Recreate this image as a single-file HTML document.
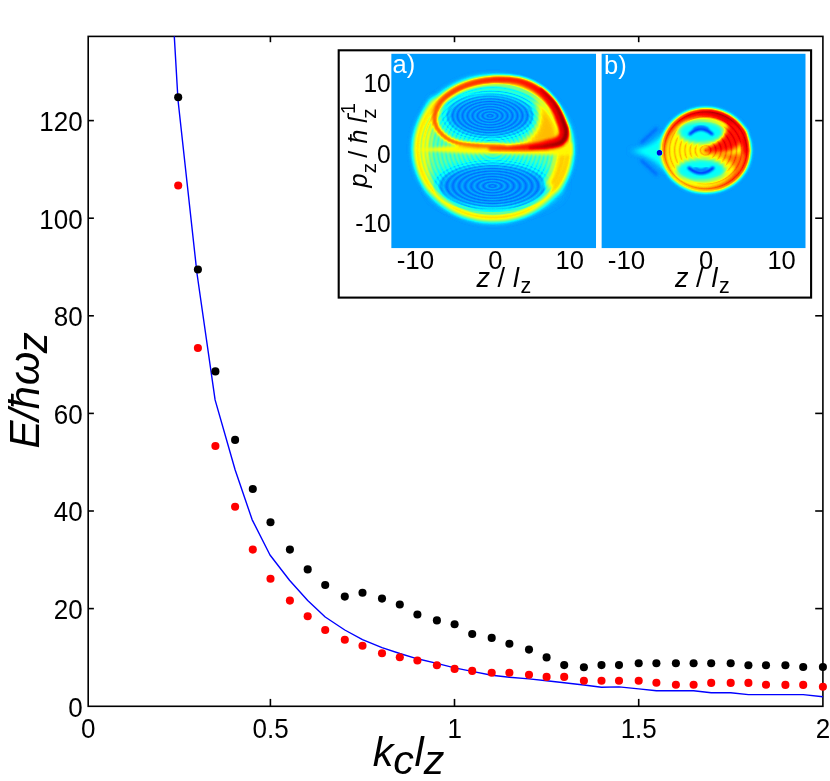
<!DOCTYPE html>
<html><head><meta charset="utf-8"><title>E vs k_c l_z</title>
<style>html,body{margin:0;padding:0;background:#fff;}body{width:830px;height:781px;overflow:hidden;}svg{display:block;filter:blur(0.45px);}text{font-family:"Liberation Sans",sans-serif;}.i{font-style:italic;}</style></head><body>
<svg width="830" height="781" viewBox="0 0 830 781">
<defs>
<clipPath id="clipA"><rect x="391.2" y="53.6" width="204.9" height="194.7"/></clipPath>
<clipPath id="clipB"><rect x="601.4" y="53.6" width="204.3" height="194.7"/></clipPath>
<filter id="b05" x="-50%" y="-50%" width="200%" height="200%" color-interpolation-filters="sRGB"><feGaussianBlur stdDeviation="0.5"/></filter>
<filter id="b07" x="-50%" y="-50%" width="200%" height="200%" color-interpolation-filters="sRGB"><feGaussianBlur stdDeviation="0.7"/></filter>
<filter id="b1" x="-50%" y="-50%" width="200%" height="200%" color-interpolation-filters="sRGB"><feGaussianBlur stdDeviation="1"/></filter>
<filter id="b15" x="-50%" y="-50%" width="200%" height="200%" color-interpolation-filters="sRGB"><feGaussianBlur stdDeviation="1.5"/></filter>
<filter id="b2" x="-50%" y="-50%" width="200%" height="200%" color-interpolation-filters="sRGB"><feGaussianBlur stdDeviation="2"/></filter>
<filter id="b25" x="-50%" y="-50%" width="200%" height="200%" color-interpolation-filters="sRGB"><feGaussianBlur stdDeviation="2.5"/></filter>
<filter id="b3" x="-50%" y="-50%" width="200%" height="200%" color-interpolation-filters="sRGB"><feGaussianBlur stdDeviation="3"/></filter>
<filter id="b4" x="-50%" y="-50%" width="200%" height="200%" color-interpolation-filters="sRGB"><feGaussianBlur stdDeviation="4"/></filter>
<filter id="b5" x="-50%" y="-50%" width="200%" height="200%" color-interpolation-filters="sRGB"><feGaussianBlur stdDeviation="5"/></filter>
<filter id="b6" x="-50%" y="-50%" width="200%" height="200%" color-interpolation-filters="sRGB"><feGaussianBlur stdDeviation="6"/></filter>
<filter id="jet" x="0" y="0" width="100%" height="100%" color-interpolation-filters="sRGB"><feComponentTransfer><feFuncR type="table" tableValues="0 0 0 0 .5 1 1 1 .5"/><feFuncG type="table" tableValues="0 0 .5 1 1 1 .5 0 0"/><feFuncB type="table" tableValues=".5 1 1 1 .5 0 0 0 0"/></feComponentTransfer></filter>
<radialGradient id="ripA" cx="0.5" cy="0.5" r="0.05" spreadMethod="repeat"><stop offset="0" stop-color="#fff" stop-opacity="0.065"/><stop offset="0.5" stop-color="#000" stop-opacity="0.065"/><stop offset="1" stop-color="#fff" stop-opacity="0.065"/></radialGradient>
<radialGradient id="ringsA" cx="0.5" cy="0.5" r="0.028" spreadMethod="repeat"><stop offset="0" stop-color="#fff" stop-opacity="0.07"/><stop offset="0.5" stop-color="#000" stop-opacity="0.10"/><stop offset="1" stop-color="#fff" stop-opacity="0.07"/></radialGradient>
<radialGradient id="ringsB" cx="0.5" cy="0.5" r="0.06" spreadMethod="repeat"><stop offset="0" stop-color="#fff" stop-opacity="0.14"/><stop offset="0.5" stop-color="#000" stop-opacity="0.05"/><stop offset="1" stop-color="#fff" stop-opacity="0.14"/></radialGradient>
</defs>
<rect x="0" y="0" width="830" height="781" fill="#fff"/>
<g stroke="#000" stroke-width="1.60" fill="none" stroke-linecap="butt">
<rect x="88.2" y="36.4" width="734.7" height="669.9"/>
<line x1="270.4" y1="706.3" x2="270.4" y2="698.9"/>
<line x1="270.4" y1="36.4" x2="270.4" y2="42.2"/>
<line x1="454.5" y1="706.3" x2="454.5" y2="698.9"/>
<line x1="454.5" y1="36.4" x2="454.5" y2="42.2"/>
<line x1="638.7" y1="706.3" x2="638.7" y2="698.9"/>
<line x1="638.7" y1="36.4" x2="638.7" y2="42.2"/>
<line x1="88.2" y1="608.6" x2="93.9" y2="608.6"/>
<line x1="822.9" y1="608.6" x2="815.2" y2="608.6"/>
<line x1="88.2" y1="511.0" x2="93.9" y2="511.0"/>
<line x1="822.9" y1="511.0" x2="815.2" y2="511.0"/>
<line x1="88.2" y1="413.4" x2="93.9" y2="413.4"/>
<line x1="822.9" y1="413.4" x2="815.2" y2="413.4"/>
<line x1="88.2" y1="315.8" x2="93.9" y2="315.8"/>
<line x1="822.9" y1="315.8" x2="815.2" y2="315.8"/>
<line x1="88.2" y1="218.2" x2="93.9" y2="218.2"/>
<line x1="822.9" y1="218.2" x2="815.2" y2="218.2"/>
<line x1="88.2" y1="120.6" x2="93.9" y2="120.6"/>
<line x1="822.9" y1="120.6" x2="815.2" y2="120.6"/>
</g>
<polyline fill="none" stroke="#0000ff" stroke-width="1.4" stroke-linejoin="round" points="174.3,36.4 178.0,100.0 197.0,273.5 215.1,399.9 235.1,469.7 252.1,519.6 270.0,555.0 289.5,580.2 307.7,600.5 325.2,617.0 344.8,630.0 362.5,639.6 382.0,647.7 399.8,653.5 417.4,658.8 436.9,663.4 454.6,667.9 472.2,671.4 491.7,675.2 509.4,677.2 529.0,678.9 546.6,680.8 564.2,682.8 583.9,685.0 601.5,687.2 619.0,686.9 638.7,688.9 656.4,690.8 675.9,690.8 693.6,690.8 711.2,692.8 730.7,692.8 748.4,694.6 766.0,694.6 785.4,694.6 803.2,694.6 822.9,696.7"/>
<g fill="#000">
<circle cx="178.2" cy="97.2" r="4.05"/>
<circle cx="197.9" cy="269.5" r="4.05"/>
<circle cx="215.4" cy="371.4" r="4.05"/>
<circle cx="235.1" cy="439.9" r="4.05"/>
<circle cx="252.8" cy="489.0" r="4.05"/>
<circle cx="270.5" cy="522.2" r="4.05"/>
<circle cx="289.9" cy="549.6" r="4.05"/>
<circle cx="307.7" cy="569.4" r="4.05"/>
<circle cx="325.2" cy="585.0" r="4.05"/>
<circle cx="344.8" cy="596.6" r="4.05"/>
<circle cx="362.5" cy="592.7" r="4.05"/>
<circle cx="382.0" cy="598.6" r="4.05"/>
<circle cx="399.8" cy="604.5" r="4.05"/>
<circle cx="417.4" cy="614.5" r="4.05"/>
<circle cx="436.9" cy="620.4" r="4.05"/>
<circle cx="454.6" cy="624.2" r="4.05"/>
<circle cx="472.2" cy="634.0" r="4.05"/>
<circle cx="491.7" cy="637.9" r="4.05"/>
<circle cx="509.4" cy="643.8" r="4.05"/>
<circle cx="529.0" cy="649.6" r="4.05"/>
<circle cx="546.6" cy="657.4" r="4.05"/>
<circle cx="564.2" cy="665.1" r="4.05"/>
<circle cx="583.9" cy="667.2" r="4.05"/>
<circle cx="601.5" cy="665.1" r="4.05"/>
<circle cx="619.0" cy="665.1" r="4.05"/>
<circle cx="638.7" cy="663.3" r="4.05"/>
<circle cx="656.4" cy="663.3" r="4.05"/>
<circle cx="675.9" cy="663.3" r="4.05"/>
<circle cx="693.6" cy="663.3" r="4.05"/>
<circle cx="711.2" cy="663.3" r="4.05"/>
<circle cx="730.7" cy="663.3" r="4.05"/>
<circle cx="748.4" cy="665.2" r="4.05"/>
<circle cx="766.0" cy="665.2" r="4.05"/>
<circle cx="785.4" cy="665.3" r="4.05"/>
<circle cx="803.2" cy="667.0" r="4.05"/>
<circle cx="822.9" cy="667.0" r="4.05"/>
</g><g fill="#ff0000">
<circle cx="178.2" cy="185.5" r="4.05"/>
<circle cx="197.9" cy="348.0" r="4.05"/>
<circle cx="215.4" cy="446.0" r="4.05"/>
<circle cx="235.1" cy="506.7" r="4.05"/>
<circle cx="252.8" cy="549.6" r="4.05"/>
<circle cx="270.5" cy="578.7" r="4.05"/>
<circle cx="289.9" cy="600.6" r="4.05"/>
<circle cx="307.7" cy="616.3" r="4.05"/>
<circle cx="325.2" cy="630.0" r="4.05"/>
<circle cx="344.8" cy="639.8" r="4.05"/>
<circle cx="362.5" cy="645.7" r="4.05"/>
<circle cx="382.0" cy="653.3" r="4.05"/>
<circle cx="399.8" cy="657.3" r="4.05"/>
<circle cx="417.4" cy="660.5" r="4.05"/>
<circle cx="436.9" cy="665.2" r="4.05"/>
<circle cx="454.6" cy="668.9" r="4.05"/>
<circle cx="472.2" cy="670.9" r="4.05"/>
<circle cx="491.7" cy="672.8" r="4.05"/>
<circle cx="509.4" cy="672.8" r="4.05"/>
<circle cx="529.0" cy="674.8" r="4.05"/>
<circle cx="546.6" cy="676.9" r="4.05"/>
<circle cx="564.2" cy="676.9" r="4.05"/>
<circle cx="583.9" cy="680.8" r="4.05"/>
<circle cx="601.5" cy="680.8" r="4.05"/>
<circle cx="619.0" cy="680.8" r="4.05"/>
<circle cx="638.7" cy="680.8" r="4.05"/>
<circle cx="656.4" cy="682.8" r="4.05"/>
<circle cx="675.9" cy="684.7" r="4.05"/>
<circle cx="693.6" cy="684.8" r="4.05"/>
<circle cx="711.2" cy="682.9" r="4.05"/>
<circle cx="730.7" cy="682.9" r="4.05"/>
<circle cx="748.4" cy="682.9" r="4.05"/>
<circle cx="766.0" cy="684.8" r="4.05"/>
<circle cx="785.4" cy="684.9" r="4.05"/>
<circle cx="803.2" cy="684.9" r="4.05"/>
<circle cx="822.9" cy="686.7" r="4.05"/>
</g>
<g font-size="26.0" fill="#000">
<text transform="translate(82.7,716.6) scale(1,1.060)" text-anchor="end">0</text>
<text transform="translate(82.7,618.9) scale(1,1.060)" text-anchor="end">20</text>
<text transform="translate(82.7,521.3) scale(1,1.060)" text-anchor="end">40</text>
<text transform="translate(82.7,423.7) scale(1,1.060)" text-anchor="end">60</text>
<text transform="translate(82.7,326.1) scale(1,1.060)" text-anchor="end">80</text>
<text transform="translate(82.7,228.5) scale(1,1.060)" text-anchor="end">100</text>
<text transform="translate(82.7,130.9) scale(1,1.060)" text-anchor="end">120</text>
<text transform="translate(88.2,738.0) scale(1,1.060)" text-anchor="middle">0</text>
<text transform="translate(270.6,738.0) scale(1,1.060)" text-anchor="middle">0.5</text>
<text transform="translate(454.7,738.0) scale(1,1.060)" text-anchor="middle">1</text>
<text transform="translate(638.7,738.0) scale(1,1.060)" text-anchor="middle">1.5</text>
<text transform="translate(822.9,738.0) scale(1,1.060)" text-anchor="middle">2</text>
</g>
<g class="i" font-size="41.3" fill="#000">
<text x="372.8" y="765.7">k</text>
<text x="393.3" y="774.2">c</text>
<text x="414.6" y="765.7">l</text>
<text x="423.8" y="774.0">z</text>
</g>
<g class="i" font-size="42" fill="#000" transform="translate(39.2,448.6) rotate(-90)">
<text x="0" y="0" textLength="62.6" lengthAdjust="spacing">E/ħ</text>
<text x="63.3" y="0" textLength="33.6" lengthAdjust="spacingAndGlyphs">ω</text>
<text x="95.4" y="8.0">z</text>
</g>
<rect x="338.7" y="50.3" width="472.4" height="247.3" fill="#fff" stroke="#000" stroke-width="2.1"/>
<g clip-path="url(#clipA)"><g filter="url(#jet)">
<rect x="391.2" y="53.6" width="204.9" height="194.7" fill="#474747"/>
<ellipse cx="493.0" cy="149.0" rx="80.5" ry="73.6" fill="#737373" filter="url(#b25)"/>
<ellipse cx="489.7" cy="116" rx="52" ry="29" fill="#5e5e5e" filter="url(#b4)"/>
<ellipse cx="496" cy="185.5" rx="66" ry="28" fill="#5e5e5e" filter="url(#b4)"/>
<ellipse cx="493.0" cy="149.0" rx="75.5" ry="68.6" fill="none" stroke="#b5b5b5" stroke-width="5.5" filter="url(#b2)"/>
<path d="M434 98 C417 120 415 168 432 194 C426 165 427 130 442 106Z" fill="#a3a3a3" filter="url(#b3)"/>
<ellipse cx="493.0" cy="149.0" rx="73.5" ry="66.6" fill="url(#ringsA)" filter="url(#b05)"/>
<ellipse cx="490" cy="115.8" rx="43" ry="21" fill="#404040" filter="url(#b3)"/>
<ellipse cx="492.5" cy="186" rx="54" ry="22" fill="#404040" filter="url(#b3)"/>
<ellipse cx="490" cy="115.8" rx="50" ry="26" fill="url(#ripA)" filter="url(#b05)"/>
<ellipse cx="492.5" cy="186" rx="61" ry="27" fill="url(#ripA)" filter="url(#b05)"/>
<path d="M534 96 C552 110 561 128 559 144 L512 147 C535 140 546 122 534 96Z" fill="#b0b0b0" filter="url(#b3)"/>
<path d="M569 150 C569 166 564 180 556 192 L545 184 C553 172 556 160 556 150Z" fill="#adadad" filter="url(#b3)"/>
<path d="M412 150 L470 144 L572 143 L572 155 L470 153.5Z" fill="#a1a1a1" filter="url(#b15)"/>
<g filter="url(#b15)"><circle cx="504.0" cy="146.8" r="2.00" fill="#c7c7c7"/><circle cx="503.3" cy="146.8" r="2.01" fill="#c7c7c7"/><circle cx="502.6" cy="146.7" r="2.02" fill="#c7c7c7"/><circle cx="501.7" cy="146.7" r="2.03" fill="#c7c7c7"/><circle cx="500.8" cy="146.6" r="2.04" fill="#c7c7c7"/><circle cx="499.8" cy="146.6" r="2.04" fill="#c7c7c7"/><circle cx="498.7" cy="146.5" r="2.05" fill="#c7c7c7"/><circle cx="497.5" cy="146.5" r="2.06" fill="#c7c7c7"/><circle cx="496.3" cy="146.4" r="2.07" fill="#c7c7c7"/><circle cx="495.0" cy="146.4" r="2.08" fill="#c7c7c7"/><circle cx="493.7" cy="146.3" r="2.09" fill="#c7c7c7"/><circle cx="492.4" cy="146.2" r="2.10" fill="#c7c7c7"/><circle cx="491.0" cy="146.2" r="2.11" fill="#c7c7c7"/><circle cx="489.6" cy="146.1" r="2.12" fill="#c7c7c7"/><circle cx="488.1" cy="146.0" r="2.12" fill="#c7c7c7"/><circle cx="486.7" cy="146.0" r="2.13" fill="#c7c7c7"/><circle cx="485.2" cy="145.9" r="2.14" fill="#c7c7c7"/><circle cx="483.8" cy="145.8" r="2.15" fill="#c7c7c7"/><circle cx="482.4" cy="145.7" r="2.16" fill="#c7c7c7"/><circle cx="480.9" cy="145.6" r="2.17" fill="#c7c7c7"/><circle cx="479.5" cy="145.6" r="2.18" fill="#c7c7c7"/><circle cx="478.2" cy="145.5" r="2.19" fill="#c7c7c7"/><circle cx="476.8" cy="145.4" r="2.20" fill="#c7c7c7"/><circle cx="475.6" cy="145.3" r="2.21" fill="#c7c7c7"/><circle cx="474.3" cy="145.2" r="2.21" fill="#c7c7c7"/><circle cx="473.1" cy="145.1" r="2.22" fill="#c7c7c7"/><circle cx="472.0" cy="145.0" r="2.23" fill="#c7c7c7"/><circle cx="471.0" cy="144.9" r="2.24" fill="#c7c7c7"/><circle cx="470.0" cy="144.8" r="2.25" fill="#c7c7c7"/><circle cx="468.3" cy="144.6" r="2.27" fill="#c7c7c7"/><circle cx="466.8" cy="144.4" r="2.28" fill="#c7c7c7"/><circle cx="465.3" cy="144.2" r="2.30" fill="#c7c7c7"/><circle cx="463.9" cy="144.1" r="2.32" fill="#c7c7c7"/><circle cx="462.6" cy="143.9" r="2.33" fill="#c7c7c7"/><circle cx="461.4" cy="143.7" r="2.35" fill="#c7c7c7"/><circle cx="460.2" cy="143.5" r="2.37" fill="#c7c7c7"/><circle cx="459.1" cy="143.3" r="2.38" fill="#c7c7c7"/><circle cx="458.0" cy="143.0" r="2.40" fill="#c7c7c7"/><circle cx="457.0" cy="142.8" r="2.42" fill="#c7c7c7"/><circle cx="456.0" cy="142.5" r="2.43" fill="#c7c7c7"/><circle cx="455.0" cy="142.2" r="2.45" fill="#c7c7c7"/><circle cx="454.0" cy="141.8" r="2.47" fill="#c7c7c7"/><circle cx="453.0" cy="141.4" r="2.48" fill="#c7c7c7"/><circle cx="452.0" cy="141.0" r="2.50" fill="#c7c7c7"/><circle cx="450.8" cy="140.5" r="2.51" fill="#c7c7c7"/><circle cx="449.7" cy="139.9" r="2.52" fill="#c7c7c7"/><circle cx="448.6" cy="139.3" r="2.52" fill="#c7c7c7"/><circle cx="447.5" cy="138.6" r="2.53" fill="#c7c7c7"/><circle cx="446.5" cy="137.9" r="2.54" fill="#c7c7c7"/><circle cx="445.4" cy="137.2" r="2.55" fill="#c7c7c7"/><circle cx="444.5" cy="136.4" r="2.55" fill="#c7c7c7"/><circle cx="443.5" cy="135.6" r="2.56" fill="#c7c7c7"/><circle cx="442.6" cy="134.8" r="2.57" fill="#c7c7c7"/><circle cx="441.8" cy="134.0" r="2.58" fill="#c7c7c7"/><circle cx="441.0" cy="133.2" r="2.58" fill="#c7c7c7"/><circle cx="440.2" cy="132.3" r="2.59" fill="#c7c7c7"/><circle cx="439.5" cy="131.5" r="2.60" fill="#c7c7c7"/><circle cx="438.7" cy="130.5" r="2.60" fill="#c7c7c7"/><circle cx="438.0" cy="129.4" r="2.60" fill="#c7c7c7"/><circle cx="437.3" cy="128.4" r="2.60" fill="#c8c8c8"/><circle cx="436.7" cy="127.3" r="2.60" fill="#c8c8c8"/><circle cx="436.2" cy="126.1" r="2.60" fill="#c8c8c8"/><circle cx="435.7" cy="125.0" r="2.60" fill="#c8c8c8"/><circle cx="435.3" cy="123.8" r="2.60" fill="#c9c9c9"/><circle cx="435.0" cy="122.6" r="2.60" fill="#c9c9c9"/><circle cx="434.7" cy="121.4" r="2.60" fill="#c9c9c9"/><circle cx="434.6" cy="120.2" r="2.60" fill="#c9c9c9"/><circle cx="434.5" cy="119.0" r="2.60" fill="#c9c9c9"/><circle cx="434.5" cy="117.9" r="2.61" fill="#cacaca"/><circle cx="434.6" cy="116.7" r="2.62" fill="#cacaca"/><circle cx="434.8" cy="115.5" r="2.62" fill="#cacaca"/><circle cx="435.0" cy="114.2" r="2.63" fill="#cacaca"/><circle cx="435.3" cy="113.0" r="2.64" fill="#cbcbcb"/><circle cx="435.6" cy="111.7" r="2.65" fill="#cbcbcb"/><circle cx="436.0" cy="110.5" r="2.66" fill="#cbcbcb"/><circle cx="436.5" cy="109.2" r="2.67" fill="#cbcbcb"/><circle cx="437.1" cy="108.0" r="2.68" fill="#cbcbcb"/><circle cx="437.6" cy="106.8" r="2.68" fill="#cccccc"/><circle cx="438.3" cy="105.6" r="2.69" fill="#cccccc"/><circle cx="439.0" cy="104.5" r="2.70" fill="#cccccc"/><circle cx="439.7" cy="103.6" r="2.71" fill="#cccccc"/><circle cx="440.3" cy="102.6" r="2.73" fill="#cccccc"/><circle cx="441.1" cy="101.7" r="2.74" fill="#cdcdcd"/><circle cx="441.9" cy="100.8" r="2.76" fill="#cdcdcd"/><circle cx="442.7" cy="99.9" r="2.77" fill="#cdcdcd"/><circle cx="443.6" cy="99.0" r="2.79" fill="#cdcdcd"/><circle cx="444.5" cy="98.2" r="2.80" fill="#cdcdcd"/><circle cx="445.5" cy="97.3" r="2.81" fill="#cdcdcd"/><circle cx="446.5" cy="96.5" r="2.83" fill="#cecece"/><circle cx="447.5" cy="95.6" r="2.84" fill="#cecece"/><circle cx="448.6" cy="94.8" r="2.86" fill="#cecece"/><circle cx="449.7" cy="94.0" r="2.87" fill="#cecece"/><circle cx="450.8" cy="93.3" r="2.89" fill="#cecece"/><circle cx="452.0" cy="92.5" r="2.90" fill="#cfcfcf"/><circle cx="452.9" cy="91.9" r="2.91" fill="#cfcfcf"/><circle cx="453.9" cy="91.3" r="2.92" fill="#cfcfcf"/><circle cx="454.9" cy="90.8" r="2.93" fill="#cfcfcf"/><circle cx="455.9" cy="90.2" r="2.94" fill="#cfcfcf"/><circle cx="456.9" cy="89.6" r="2.96" fill="#cfcfcf"/><circle cx="458.0" cy="89.1" r="2.97" fill="#cfcfcf"/><circle cx="459.0" cy="88.6" r="2.98" fill="#d0d0d0"/><circle cx="460.1" cy="88.0" r="2.99" fill="#d0d0d0"/><circle cx="461.2" cy="87.5" r="3.00" fill="#d0d0d0"/><circle cx="462.4" cy="87.0" r="3.01" fill="#d0d0d0"/><circle cx="463.5" cy="86.5" r="3.02" fill="#d0d0d0"/><circle cx="464.7" cy="86.0" r="3.03" fill="#d0d0d0"/><circle cx="465.9" cy="85.6" r="3.04" fill="#d0d0d0"/><circle cx="467.1" cy="85.1" r="3.06" fill="#d1d1d1"/><circle cx="468.3" cy="84.7" r="3.07" fill="#d1d1d1"/><circle cx="469.5" cy="84.3" r="3.08" fill="#d1d1d1"/><circle cx="470.8" cy="83.9" r="3.09" fill="#d1d1d1"/><circle cx="472.0" cy="83.5" r="3.10" fill="#d1d1d1"/><circle cx="473.1" cy="83.2" r="3.11" fill="#d1d1d1"/><circle cx="474.2" cy="82.9" r="3.12" fill="#d2d2d2"/><circle cx="475.3" cy="82.6" r="3.13" fill="#d2d2d2"/><circle cx="476.5" cy="82.3" r="3.14" fill="#d2d2d2"/><circle cx="477.6" cy="82.1" r="3.15" fill="#d2d2d2"/><circle cx="478.8" cy="81.8" r="3.16" fill="#d3d3d3"/><circle cx="480.0" cy="81.6" r="3.17" fill="#d3d3d3"/><circle cx="481.2" cy="81.3" r="3.18" fill="#d3d3d3"/><circle cx="482.4" cy="81.1" r="3.19" fill="#d3d3d3"/><circle cx="483.6" cy="80.9" r="3.20" fill="#d4d4d4"/><circle cx="484.9" cy="80.7" r="3.20" fill="#d4d4d4"/><circle cx="486.1" cy="80.5" r="3.21" fill="#d4d4d4"/><circle cx="487.3" cy="80.4" r="3.22" fill="#d4d4d4"/><circle cx="488.6" cy="80.2" r="3.23" fill="#d4d4d4"/><circle cx="489.8" cy="80.1" r="3.24" fill="#d5d5d5"/><circle cx="491.0" cy="79.9" r="3.25" fill="#d5d5d5"/><circle cx="492.2" cy="79.8" r="3.26" fill="#d5d5d5"/><circle cx="493.4" cy="79.7" r="3.27" fill="#d5d5d5"/><circle cx="494.6" cy="79.6" r="3.28" fill="#d6d6d6"/><circle cx="495.8" cy="79.6" r="3.29" fill="#d6d6d6"/><circle cx="497.0" cy="79.5" r="3.30" fill="#d6d6d6"/><circle cx="498.2" cy="79.5" r="3.31" fill="#d6d6d6"/><circle cx="499.5" cy="79.4" r="3.32" fill="#d6d6d6"/><circle cx="500.7" cy="79.4" r="3.33" fill="#d7d7d7"/><circle cx="501.9" cy="79.4" r="3.34" fill="#d7d7d7"/><circle cx="503.2" cy="79.4" r="3.35" fill="#d7d7d7"/><circle cx="504.4" cy="79.5" r="3.36" fill="#d7d7d7"/><circle cx="505.7" cy="79.5" r="3.37" fill="#d7d7d7"/><circle cx="506.9" cy="79.6" r="3.38" fill="#d7d7d7"/><circle cx="508.1" cy="79.6" r="3.39" fill="#d7d7d7"/><circle cx="509.4" cy="79.7" r="3.40" fill="#d7d7d7"/><circle cx="510.6" cy="79.8" r="3.41" fill="#d8d8d8"/><circle cx="511.8" cy="79.9" r="3.42" fill="#d8d8d8"/><circle cx="513.0" cy="80.1" r="3.43" fill="#d8d8d8"/><circle cx="514.2" cy="80.2" r="3.44" fill="#d8d8d8"/><circle cx="515.4" cy="80.4" r="3.45" fill="#d8d8d8"/><circle cx="516.5" cy="80.6" r="3.46" fill="#d8d8d8"/><circle cx="517.7" cy="80.8" r="3.47" fill="#d8d8d8"/><circle cx="518.8" cy="81.1" r="3.48" fill="#d8d8d8"/><circle cx="519.9" cy="81.3" r="3.49" fill="#d9d9d9"/><circle cx="521.0" cy="81.6" r="3.50" fill="#d9d9d9"/><circle cx="522.3" cy="82.0" r="3.52" fill="#d9d9d9"/><circle cx="523.5" cy="82.3" r="3.55" fill="#d9d9d9"/><circle cx="524.7" cy="82.8" r="3.57" fill="#dadada"/><circle cx="525.9" cy="83.2" r="3.59" fill="#dadada"/><circle cx="527.1" cy="83.7" r="3.62" fill="#dadada"/><circle cx="528.3" cy="84.2" r="3.64" fill="#dbdbdb"/><circle cx="529.5" cy="84.7" r="3.66" fill="#dbdbdb"/><circle cx="530.6" cy="85.3" r="3.69" fill="#dbdbdb"/><circle cx="531.7" cy="85.8" r="3.71" fill="#dbdbdb"/><circle cx="532.9" cy="86.4" r="3.74" fill="#dcdcdc"/><circle cx="533.9" cy="87.0" r="3.76" fill="#dcdcdc"/><circle cx="535.0" cy="87.7" r="3.78" fill="#dcdcdc"/><circle cx="536.0" cy="88.3" r="3.81" fill="#dddddd"/><circle cx="537.1" cy="89.0" r="3.83" fill="#dddddd"/><circle cx="538.1" cy="89.6" r="3.85" fill="#dddddd"/><circle cx="539.0" cy="90.3" r="3.88" fill="#dedede"/><circle cx="540.0" cy="91.0" r="3.90" fill="#dedede"/><circle cx="541.1" cy="91.8" r="3.93" fill="#dedede"/><circle cx="542.1" cy="92.6" r="3.97" fill="#dfdfdf"/><circle cx="543.1" cy="93.5" r="4.00" fill="#dfdfdf"/><circle cx="544.0" cy="94.3" r="4.03" fill="#dfdfdf"/><circle cx="545.0" cy="95.2" r="4.07" fill="#e0e0e0"/><circle cx="545.9" cy="96.1" r="4.10" fill="#e0e0e0"/><circle cx="546.8" cy="97.1" r="4.13" fill="#e0e0e0"/><circle cx="547.6" cy="98.0" r="4.17" fill="#e1e1e1"/><circle cx="548.4" cy="99.0" r="4.20" fill="#e1e1e1"/><circle cx="549.3" cy="99.9" r="4.23" fill="#e1e1e1"/><circle cx="550.0" cy="100.9" r="4.27" fill="#e2e2e2"/><circle cx="550.8" cy="101.9" r="4.30" fill="#e2e2e2"/><circle cx="551.6" cy="102.9" r="4.33" fill="#e2e2e2"/><circle cx="552.3" cy="104.0" r="4.37" fill="#e3e3e3"/><circle cx="553.0" cy="105.0" r="4.40" fill="#e3e3e3"/><circle cx="553.7" cy="106.1" r="4.42" fill="#e3e3e3"/><circle cx="554.4" cy="107.2" r="4.44" fill="#e3e3e3"/><circle cx="555.0" cy="108.3" r="4.46" fill="#e3e3e3"/><circle cx="555.6" cy="109.5" r="4.48" fill="#e4e4e4"/><circle cx="556.2" cy="110.7" r="4.50" fill="#e4e4e4"/><circle cx="556.8" cy="111.9" r="4.52" fill="#e4e4e4"/><circle cx="557.4" cy="113.1" r="4.54" fill="#e4e4e4"/><circle cx="557.9" cy="114.3" r="4.56" fill="#e4e4e4"/><circle cx="558.4" cy="115.5" r="4.58" fill="#e4e4e4"/><circle cx="558.9" cy="116.7" r="4.60" fill="#e5e5e5"/><circle cx="559.4" cy="117.8" r="4.62" fill="#e5e5e5"/><circle cx="559.8" cy="118.9" r="4.64" fill="#e5e5e5"/><circle cx="560.2" cy="120.0" r="4.66" fill="#e5e5e5"/><circle cx="560.6" cy="121.0" r="4.68" fill="#e5e5e5"/><circle cx="561.0" cy="122.0" r="4.70" fill="#e6e6e6"/><circle cx="561.6" cy="123.5" r="4.74" fill="#e6e6e6"/><circle cx="562.1" cy="124.9" r="4.79" fill="#e6e6e6"/><circle cx="562.6" cy="126.2" r="4.83" fill="#e6e6e6"/><circle cx="563.0" cy="127.5" r="4.88" fill="#e6e6e6"/><circle cx="563.3" cy="128.6" r="4.92" fill="#e6e6e6"/><circle cx="563.5" cy="129.8" r="4.97" fill="#e6e6e6"/><circle cx="563.7" cy="130.9" r="5.01" fill="#e6e6e6"/><circle cx="563.8" cy="131.9" r="5.06" fill="#e6e6e6"/><circle cx="563.8" cy="133.0" r="5.10" fill="#e6e6e6"/><circle cx="563.7" cy="134.3" r="5.16" fill="#e5e5e5"/><circle cx="563.5" cy="135.6" r="5.21" fill="#e5e5e5"/><circle cx="563.2" cy="136.8" r="5.27" fill="#e4e4e4"/><circle cx="562.7" cy="138.0" r="5.33" fill="#e4e4e4"/><circle cx="562.0" cy="139.1" r="5.39" fill="#e4e4e4"/><circle cx="561.1" cy="140.1" r="5.44" fill="#e3e3e3"/><circle cx="560.0" cy="141.0" r="5.50" fill="#e3e3e3"/><circle cx="559.2" cy="141.5" r="5.44" fill="#e3e3e3"/><circle cx="558.3" cy="141.9" r="5.38" fill="#e3e3e3"/><circle cx="557.3" cy="142.3" r="5.31" fill="#e2e2e2"/><circle cx="556.2" cy="142.7" r="5.25" fill="#e2e2e2"/><circle cx="555.1" cy="143.1" r="5.19" fill="#e2e2e2"/><circle cx="553.9" cy="143.4" r="5.12" fill="#e2e2e2"/><circle cx="552.6" cy="143.7" r="5.06" fill="#e1e1e1"/><circle cx="551.3" cy="144.0" r="5.00" fill="#e1e1e1"/><circle cx="550.0" cy="144.2" r="4.94" fill="#e1e1e1"/><circle cx="548.7" cy="144.5" r="4.88" fill="#e1e1e1"/><circle cx="547.3" cy="144.7" r="4.81" fill="#e1e1e1"/><circle cx="546.0" cy="145.0" r="4.75" fill="#e0e0e0"/><circle cx="544.9" cy="145.2" r="4.66" fill="#e0e0e0"/><circle cx="543.8" cy="145.4" r="4.57" fill="#e0e0e0"/><circle cx="542.7" cy="145.5" r="4.48" fill="#dfdfdf"/><circle cx="541.5" cy="145.7" r="4.39" fill="#dfdfdf"/><circle cx="540.4" cy="145.8" r="4.30" fill="#dfdfdf"/><circle cx="539.2" cy="146.0" r="4.21" fill="#dedede"/><circle cx="538.0" cy="146.1" r="4.12" fill="#dedede"/><circle cx="536.8" cy="146.2" r="4.03" fill="#dedede"/><circle cx="535.5" cy="146.3" r="3.94" fill="#dddddd"/><circle cx="534.3" cy="146.5" r="3.85" fill="#dddddd"/><circle cx="533.0" cy="146.6" r="3.76" fill="#dddddd"/><circle cx="531.8" cy="146.7" r="3.67" fill="#dcdcdc"/><circle cx="530.5" cy="146.8" r="3.58" fill="#dcdcdc"/><circle cx="529.3" cy="146.9" r="3.49" fill="#dcdcdc"/><circle cx="528.0" cy="147.0" r="3.40" fill="#dbdbdb"/><circle cx="526.8" cy="147.1" r="3.33" fill="#dbdbdb"/><circle cx="525.6" cy="147.2" r="3.26" fill="#dbdbdb"/><circle cx="524.3" cy="147.3" r="3.19" fill="#dadada"/><circle cx="523.1" cy="147.4" r="3.12" fill="#dadada"/><circle cx="521.8" cy="147.5" r="3.06" fill="#dadada"/><circle cx="520.6" cy="147.6" r="2.99" fill="#d9d9d9"/><circle cx="519.3" cy="147.6" r="2.92" fill="#d9d9d9"/><circle cx="518.0" cy="147.7" r="2.85" fill="#d9d9d9"/><circle cx="516.7" cy="147.8" r="2.78" fill="#d8d8d8"/><circle cx="515.4" cy="147.9" r="2.71" fill="#d8d8d8"/><circle cx="514.2" cy="148.0" r="2.64" fill="#d8d8d8"/><circle cx="512.9" cy="148.0" r="2.57" fill="#d7d7d7"/><circle cx="511.7" cy="148.1" r="2.51" fill="#d7d7d7"/><circle cx="510.4" cy="148.2" r="2.44" fill="#d7d7d7"/><circle cx="509.2" cy="148.2" r="2.37" fill="#d7d7d7"/><circle cx="508.0" cy="148.3" r="2.30" fill="#d6d6d6"/><circle cx="506.7" cy="148.4" r="2.25" fill="#d6d6d6"/><circle cx="505.4" cy="148.4" r="2.19" fill="#d5d5d5"/><circle cx="504.0" cy="148.5" r="2.14" fill="#d5d5d5"/><circle cx="502.6" cy="148.5" r="2.09" fill="#d4d4d4"/><circle cx="501.2" cy="148.6" r="2.03" fill="#d4d4d4"/><circle cx="499.8" cy="148.7" r="1.98" fill="#d3d3d3"/><circle cx="498.4" cy="148.7" r="1.93" fill="#d3d3d3"/><circle cx="497.1" cy="148.8" r="1.87" fill="#d2d2d2"/><circle cx="495.8" cy="148.8" r="1.82" fill="#d2d2d2"/><circle cx="494.6" cy="148.8" r="1.77" fill="#d1d1d1"/><circle cx="493.5" cy="148.9" r="1.71" fill="#d1d1d1"/><circle cx="492.4" cy="148.9" r="1.66" fill="#d0d0d0"/><circle cx="491.5" cy="148.9" r="1.61" fill="#d0d0d0"/><circle cx="490.7" cy="149.0" r="1.55" fill="#cfcfcf"/><circle cx="490.0" cy="149.0" r="1.50" fill="#cfcfcf"/></g>
<g filter="url(#b1)"><circle cx="540.5" cy="89.0" r="1.10" fill="#ebebeb"/><circle cx="541.0" cy="89.5" r="1.12" fill="#ebebeb"/><circle cx="541.6" cy="90.1" r="1.15" fill="#ececec"/><circle cx="542.3" cy="90.7" r="1.17" fill="#ececec"/><circle cx="543.0" cy="91.4" r="1.19" fill="#ededed"/><circle cx="543.9" cy="92.2" r="1.22" fill="#ededed"/><circle cx="544.8" cy="93.1" r="1.24" fill="#eeeeee"/><circle cx="545.7" cy="94.0" r="1.26" fill="#eeeeee"/><circle cx="546.7" cy="94.9" r="1.29" fill="#efefef"/><circle cx="547.7" cy="95.9" r="1.31" fill="#efefef"/><circle cx="548.7" cy="96.9" r="1.34" fill="#f0f0f0"/><circle cx="549.7" cy="97.9" r="1.36" fill="#f0f0f0"/><circle cx="550.7" cy="98.9" r="1.38" fill="#f1f1f1"/><circle cx="551.7" cy="99.9" r="1.41" fill="#f1f1f1"/><circle cx="552.6" cy="101.0" r="1.43" fill="#f2f2f2"/><circle cx="553.5" cy="102.0" r="1.45" fill="#f2f2f2"/><circle cx="554.3" cy="103.0" r="1.48" fill="#f3f3f3"/><circle cx="555.0" cy="104.0" r="1.50" fill="#f4f4f4"/><circle cx="555.7" cy="105.1" r="1.52" fill="#f4f4f4"/><circle cx="556.4" cy="106.2" r="1.54" fill="#f4f4f4"/><circle cx="557.1" cy="107.3" r="1.56" fill="#f4f4f4"/><circle cx="557.7" cy="108.5" r="1.57" fill="#f5f5f5"/><circle cx="558.3" cy="109.6" r="1.59" fill="#f5f5f5"/><circle cx="558.9" cy="110.8" r="1.61" fill="#f5f5f5"/><circle cx="559.5" cy="112.0" r="1.63" fill="#f6f6f6"/><circle cx="560.0" cy="113.2" r="1.65" fill="#f6f6f6"/><circle cx="560.5" cy="114.4" r="1.67" fill="#f6f6f6"/><circle cx="561.0" cy="115.6" r="1.69" fill="#f7f7f7"/><circle cx="561.5" cy="116.8" r="1.71" fill="#f7f7f7"/><circle cx="561.9" cy="117.9" r="1.73" fill="#f7f7f7"/><circle cx="562.4" cy="119.0" r="1.74" fill="#f8f8f8"/><circle cx="562.8" cy="120.1" r="1.76" fill="#f8f8f8"/><circle cx="563.1" cy="121.1" r="1.78" fill="#f8f8f8"/><circle cx="563.5" cy="122.0" r="1.80" fill="#f9f9f9"/><circle cx="564.1" cy="123.5" r="1.82" fill="#f9f9f9"/><circle cx="564.6" cy="125.0" r="1.84" fill="#f9f9f9"/><circle cx="565.0" cy="126.3" r="1.87" fill="#f9f9f9"/><circle cx="565.4" cy="127.5" r="1.89" fill="#f9f9f9"/><circle cx="565.7" cy="128.6" r="1.91" fill="#f9f9f9"/><circle cx="565.9" cy="129.7" r="1.93" fill="#f9f9f9"/><circle cx="566.0" cy="130.8" r="1.96" fill="#f9f9f9"/><circle cx="566.1" cy="131.9" r="1.98" fill="#f9f9f9"/><circle cx="566.0" cy="133.0" r="2.00" fill="#f9f9f9"/><circle cx="565.8" cy="134.3" r="2.01" fill="#f8f8f8"/><circle cx="565.6" cy="135.5" r="2.02" fill="#f8f8f8"/><circle cx="565.3" cy="136.7" r="2.04" fill="#f8f8f8"/><circle cx="564.9" cy="137.9" r="2.05" fill="#f8f8f8"/><circle cx="564.3" cy="139.1" r="2.06" fill="#f8f8f8"/><circle cx="563.6" cy="140.1" r="2.08" fill="#f8f8f8"/><circle cx="562.6" cy="141.1" r="2.09" fill="#f8f8f8"/><circle cx="561.5" cy="142.0" r="2.10" fill="#f7f7f7"/><circle cx="560.7" cy="142.5" r="2.07" fill="#f7f7f7"/><circle cx="559.7" cy="142.9" r="2.04" fill="#f7f7f7"/><circle cx="558.7" cy="143.3" r="2.01" fill="#f6f6f6"/><circle cx="557.6" cy="143.7" r="1.98" fill="#f6f6f6"/><circle cx="556.4" cy="144.0" r="1.95" fill="#f5f5f5"/><circle cx="555.1" cy="144.3" r="1.92" fill="#f5f5f5"/><circle cx="553.8" cy="144.6" r="1.88" fill="#f5f5f5"/><circle cx="552.5" cy="144.9" r="1.85" fill="#f4f4f4"/><circle cx="551.2" cy="145.1" r="1.82" fill="#f4f4f4"/><circle cx="549.8" cy="145.3" r="1.79" fill="#f3f3f3"/><circle cx="548.5" cy="145.6" r="1.76" fill="#f3f3f3"/><circle cx="547.2" cy="145.8" r="1.73" fill="#f3f3f3"/><circle cx="546.0" cy="146.0" r="1.70" fill="#f2f2f2"/><circle cx="544.7" cy="146.2" r="1.65" fill="#f2f2f2"/><circle cx="543.4" cy="146.4" r="1.61" fill="#f1f1f1"/><circle cx="542.0" cy="146.6" r="1.56" fill="#f0f0f0"/><circle cx="540.6" cy="146.7" r="1.52" fill="#f0f0f0"/><circle cx="539.2" cy="146.9" r="1.47" fill="#efefef"/><circle cx="537.7" cy="147.0" r="1.42" fill="#efefef"/><circle cx="536.3" cy="147.1" r="1.38" fill="#eeeeee"/><circle cx="535.0" cy="147.2" r="1.33" fill="#eeeeee"/><circle cx="533.8" cy="147.3" r="1.28" fill="#ededed"/><circle cx="532.6" cy="147.4" r="1.24" fill="#ececec"/><circle cx="531.6" cy="147.5" r="1.19" fill="#ececec"/><circle cx="530.7" cy="147.5" r="1.15" fill="#ebebeb"/><circle cx="530.0" cy="147.6" r="1.10" fill="#ebebeb"/></g>
<line x1="455" y1="150.8" x2="500" y2="150.8" stroke="#262626" stroke-width="1.2" opacity="0.7" filter="url(#b05)"/>
</g></g>
<g clip-path="url(#clipB)"><g filter="url(#jet)">
<rect x="601.4" y="53.6" width="204.3" height="194.7" fill="#474747"/>
<path d="M630 151 C645 148.5 655 143 664 133 L665 171 C656 161 645 154 630 151Z" fill="#626262" filter="url(#b25)"/>
<path d="M641 143 L657 128" stroke="#363636" stroke-width="2.2" filter="url(#b15)"/>
<path d="M641 160 L657 175" stroke="#363636" stroke-width="2.2" filter="url(#b15)"/>
<ellipse cx="705.6" cy="150.3" rx="44.5" ry="41.5" fill="#a8a8a8" filter="url(#b2)"/>
<g filter="url(#b15)"><circle cx="745.8" cy="150.3" r="3.60" fill="#ececec"/><circle cx="745.8" cy="151.3" r="3.58" fill="#ebebeb"/><circle cx="745.7" cy="152.8" r="3.55" fill="#ebebeb"/><circle cx="745.7" cy="154.2" r="3.53" fill="#eaeaea"/><circle cx="745.5" cy="155.5" r="3.50" fill="#e9e9e9"/><circle cx="745.3" cy="156.8" r="3.48" fill="#e8e8e8"/><circle cx="745.1" cy="158.1" r="3.45" fill="#e8e8e8"/><circle cx="744.8" cy="159.4" r="3.42" fill="#e7e7e7"/><circle cx="744.4" cy="160.7" r="3.39" fill="#e6e6e6"/><circle cx="744.1" cy="162.0" r="3.37" fill="#e5e5e5"/><circle cx="743.6" cy="163.2" r="3.34" fill="#e4e4e4"/><circle cx="743.1" cy="164.5" r="3.31" fill="#e3e3e3"/><circle cx="742.6" cy="165.7" r="3.28" fill="#e2e2e2"/><circle cx="742.2" cy="166.6" r="3.26" fill="#e2e2e2"/><circle cx="741.7" cy="167.5" r="3.23" fill="#e1e1e1"/><circle cx="741.3" cy="168.4" r="3.21" fill="#e0e0e0"/><circle cx="740.8" cy="169.3" r="3.19" fill="#e0e0e0"/><circle cx="740.2" cy="170.1" r="3.16" fill="#dfdfdf"/><circle cx="739.7" cy="171.0" r="3.14" fill="#dedede"/><circle cx="739.1" cy="171.8" r="3.12" fill="#dddddd"/><circle cx="738.5" cy="172.7" r="3.09" fill="#dddddd"/><circle cx="737.9" cy="173.5" r="3.07" fill="#dcdcdc"/><circle cx="737.3" cy="174.3" r="3.05" fill="#dbdbdb"/><circle cx="736.6" cy="175.1" r="3.02" fill="#dadada"/><circle cx="735.9" cy="175.8" r="3.00" fill="#dadada"/><circle cx="735.2" cy="176.6" r="2.98" fill="#d9d9d9"/><circle cx="734.5" cy="177.3" r="2.95" fill="#d8d8d8"/><circle cx="733.7" cy="178.0" r="2.93" fill="#d7d7d7"/><circle cx="733.0" cy="178.7" r="2.91" fill="#d7d7d7"/><circle cx="732.2" cy="179.4" r="2.88" fill="#d6d6d6"/><circle cx="731.4" cy="180.0" r="2.86" fill="#d5d5d5"/><circle cx="730.5" cy="180.7" r="2.84" fill="#d4d4d4"/><circle cx="729.7" cy="181.3" r="2.81" fill="#d3d3d3"/><circle cx="728.8" cy="181.9" r="2.79" fill="#d3d3d3"/><circle cx="727.9" cy="182.5" r="2.77" fill="#d2d2d2"/><circle cx="727.1" cy="183.0" r="2.74" fill="#d1d1d1"/><circle cx="726.1" cy="183.6" r="2.72" fill="#d0d0d0"/><circle cx="725.2" cy="184.1" r="2.70" fill="#d0d0d0"/><circle cx="724.3" cy="184.6" r="2.68" fill="#cfcfcf"/><circle cx="723.3" cy="185.0" r="2.66" fill="#cecece"/><circle cx="722.3" cy="185.5" r="2.63" fill="#cdcdcd"/><circle cx="721.4" cy="185.9" r="2.61" fill="#cccccc"/><circle cx="720.4" cy="186.3" r="2.59" fill="#cccccc"/><circle cx="719.4" cy="186.6" r="2.57" fill="#cbcbcb"/><circle cx="718.3" cy="187.0" r="2.55" fill="#cacaca"/><circle cx="717.3" cy="187.3" r="2.53" fill="#c9c9c9"/><circle cx="716.3" cy="187.6" r="2.51" fill="#c9c9c9"/><circle cx="715.2" cy="187.8" r="2.49" fill="#c8c8c8"/><circle cx="714.2" cy="188.1" r="2.47" fill="#c7c7c7"/><circle cx="713.1" cy="188.3" r="2.45" fill="#c6c6c6"/><circle cx="712.1" cy="188.5" r="2.43" fill="#c6c6c6"/><circle cx="711.0" cy="188.7" r="2.42" fill="#c5c5c5"/><circle cx="709.9" cy="188.8" r="2.40" fill="#c4c4c4"/><circle cx="708.9" cy="188.9" r="2.38" fill="#c3c3c3"/><circle cx="707.8" cy="189.0" r="2.36" fill="#c3c3c3"/><circle cx="706.7" cy="189.0" r="2.35" fill="#c2c2c2"/><circle cx="705.6" cy="189.1" r="2.33" fill="#c1c1c1"/><circle cx="704.5" cy="189.1" r="2.32" fill="#c1c1c1"/><circle cx="703.4" cy="189.0" r="2.30" fill="#c0c0c0"/><circle cx="702.3" cy="189.0" r="2.29" fill="#bfbfbf"/><circle cx="701.3" cy="188.9" r="2.27" fill="#bfbfbf"/><circle cx="700.2" cy="188.8" r="2.26" fill="#bebebe"/><circle cx="699.1" cy="188.7" r="2.25" fill="#bebebe"/><circle cx="698.0" cy="188.5" r="2.23" fill="#bdbdbd"/><circle cx="697.0" cy="188.3" r="2.22" fill="#bcbcbc"/><circle cx="695.9" cy="188.1" r="2.21" fill="#bcbcbc"/><circle cx="694.8" cy="187.9" r="2.20" fill="#bbbbbb"/><circle cx="693.8" cy="187.6" r="2.19" fill="#bbbbbb"/><circle cx="692.7" cy="187.3" r="2.18" fill="#bababa"/><circle cx="691.7" cy="187.0" r="2.17" fill="#bababa"/><circle cx="690.7" cy="186.6" r="2.16" fill="#b9b9b9"/><circle cx="689.7" cy="186.3" r="2.15" fill="#b9b9b9"/><circle cx="688.7" cy="185.9" r="2.14" fill="#b8b8b8"/><circle cx="687.7" cy="185.5" r="2.14" fill="#b8b8b8"/><circle cx="686.7" cy="185.0" r="2.13" fill="#b8b8b8"/><circle cx="685.7" cy="184.5" r="2.13" fill="#b7b7b7"/><circle cx="684.8" cy="184.0" r="2.12" fill="#b7b7b7"/><circle cx="683.8" cy="183.5" r="2.12" fill="#b6b6b6"/><circle cx="682.9" cy="183.0" r="2.11" fill="#b6b6b6"/><circle cx="682.0" cy="182.4" r="2.11" fill="#b6b6b6"/><circle cx="681.1" cy="181.8" r="2.10" fill="#b6b6b6"/><circle cx="680.2" cy="181.2" r="2.10" fill="#b5b5b5"/><circle cx="679.4" cy="180.6" r="2.10" fill="#b5b5b5"/><circle cx="678.5" cy="179.9" r="2.10" fill="#b5b5b5"/><circle cx="677.7" cy="179.3" r="2.10" fill="#b5b5b5"/><circle cx="676.9" cy="178.6" r="2.10" fill="#b5b5b5"/><circle cx="676.1" cy="177.9" r="2.10" fill="#b5b5b5"/><circle cx="675.4" cy="177.1" r="2.10" fill="#b5b5b5"/><circle cx="674.6" cy="176.4" r="2.10" fill="#b6b6b6"/><circle cx="673.9" cy="175.6" r="2.11" fill="#b6b6b6"/><circle cx="673.2" cy="174.8" r="2.11" fill="#b6b6b6"/><circle cx="672.5" cy="174.0" r="2.12" fill="#b6b6b6"/><circle cx="671.9" cy="173.2" r="2.12" fill="#b7b7b7"/><circle cx="671.3" cy="172.4" r="2.13" fill="#b7b7b7"/><circle cx="670.7" cy="171.5" r="2.13" fill="#b8b8b8"/><circle cx="670.1" cy="170.6" r="2.14" fill="#b8b8b8"/><circle cx="669.5" cy="169.8" r="2.14" fill="#b8b8b8"/><circle cx="669.0" cy="168.9" r="2.15" fill="#b9b9b9"/><circle cx="668.5" cy="168.0" r="2.16" fill="#b9b9b9"/><circle cx="668.0" cy="167.1" r="2.17" fill="#bababa"/><circle cx="667.6" cy="166.1" r="2.18" fill="#bababa"/><circle cx="667.2" cy="165.2" r="2.19" fill="#bbbbbb"/><circle cx="666.8" cy="164.2" r="2.20" fill="#bbbbbb"/><circle cx="666.4" cy="163.3" r="2.21" fill="#bcbcbc"/><circle cx="666.1" cy="162.3" r="2.22" fill="#bcbcbc"/><circle cx="665.7" cy="161.3" r="2.23" fill="#bdbdbd"/><circle cx="665.5" cy="160.4" r="2.25" fill="#bebebe"/><circle cx="665.2" cy="159.4" r="2.26" fill="#bebebe"/><circle cx="665.0" cy="158.4" r="2.27" fill="#bfbfbf"/><circle cx="664.8" cy="157.4" r="2.29" fill="#bfbfbf"/><circle cx="664.6" cy="156.4" r="2.30" fill="#c0c0c0"/><circle cx="664.5" cy="155.4" r="2.32" fill="#c1c1c1"/><circle cx="664.4" cy="154.4" r="2.33" fill="#c1c1c1"/><circle cx="664.3" cy="153.3" r="2.35" fill="#c2c2c2"/><circle cx="664.2" cy="152.3" r="2.36" fill="#c3c3c3"/><circle cx="664.2" cy="151.3" r="2.38" fill="#c3c3c3"/><circle cx="664.2" cy="150.3" r="2.40" fill="#c4c4c4"/><circle cx="664.2" cy="149.3" r="2.42" fill="#c5c5c5"/><circle cx="664.3" cy="148.3" r="2.43" fill="#c6c6c6"/><circle cx="664.4" cy="147.3" r="2.45" fill="#c6c6c6"/><circle cx="664.5" cy="146.3" r="2.47" fill="#c7c7c7"/><circle cx="664.6" cy="145.3" r="2.49" fill="#c8c8c8"/><circle cx="664.8" cy="144.3" r="2.51" fill="#c9c9c9"/><circle cx="665.0" cy="143.3" r="2.53" fill="#c9c9c9"/><circle cx="665.3" cy="142.3" r="2.55" fill="#cacaca"/><circle cx="665.5" cy="141.3" r="2.57" fill="#cbcbcb"/><circle cx="665.8" cy="140.3" r="2.59" fill="#cccccc"/><circle cx="666.1" cy="139.4" r="2.61" fill="#cccccc"/><circle cx="666.4" cy="138.4" r="2.63" fill="#cdcdcd"/><circle cx="666.8" cy="137.5" r="2.66" fill="#cecece"/><circle cx="667.2" cy="136.5" r="2.68" fill="#cfcfcf"/><circle cx="667.6" cy="135.6" r="2.70" fill="#d0d0d0"/><circle cx="668.1" cy="134.7" r="2.72" fill="#d0d0d0"/><circle cx="668.5" cy="133.8" r="2.74" fill="#d1d1d1"/><circle cx="669.0" cy="132.9" r="2.77" fill="#d2d2d2"/><circle cx="669.6" cy="132.0" r="2.79" fill="#d3d3d3"/><circle cx="670.1" cy="131.1" r="2.81" fill="#d3d3d3"/><circle cx="670.7" cy="130.3" r="2.84" fill="#d4d4d4"/><circle cx="671.3" cy="129.5" r="2.86" fill="#d5d5d5"/><circle cx="671.9" cy="128.6" r="2.88" fill="#d6d6d6"/><circle cx="672.5" cy="127.8" r="2.91" fill="#d7d7d7"/><circle cx="673.2" cy="127.0" r="2.93" fill="#d7d7d7"/><circle cx="673.9" cy="126.3" r="2.95" fill="#d8d8d8"/><circle cx="674.6" cy="125.5" r="2.98" fill="#d9d9d9"/><circle cx="675.3" cy="124.8" r="3.00" fill="#dadada"/><circle cx="676.0" cy="124.1" r="3.02" fill="#dadada"/><circle cx="676.8" cy="123.4" r="3.05" fill="#dbdbdb"/><circle cx="677.6" cy="122.7" r="3.07" fill="#dcdcdc"/><circle cx="678.4" cy="122.0" r="3.09" fill="#dddddd"/><circle cx="679.2" cy="121.4" r="3.12" fill="#dddddd"/><circle cx="680.0" cy="120.8" r="3.14" fill="#dedede"/><circle cx="680.9" cy="120.2" r="3.16" fill="#dfdfdf"/><circle cx="681.7" cy="119.6" r="3.19" fill="#e0e0e0"/><circle cx="682.6" cy="119.0" r="3.21" fill="#e0e0e0"/><circle cx="683.5" cy="118.5" r="3.23" fill="#e1e1e1"/><circle cx="684.4" cy="118.0" r="3.26" fill="#e2e2e2"/><circle cx="685.3" cy="117.5" r="3.28" fill="#e2e2e2"/><circle cx="686.3" cy="117.0" r="3.30" fill="#e3e3e3"/><circle cx="687.2" cy="116.6" r="3.32" fill="#e4e4e4"/><circle cx="688.2" cy="116.2" r="3.34" fill="#e4e4e4"/><circle cx="689.2" cy="115.8" r="3.37" fill="#e5e5e5"/><circle cx="690.1" cy="115.4" r="3.39" fill="#e6e6e6"/><circle cx="691.1" cy="115.1" r="3.41" fill="#e6e6e6"/><circle cx="692.1" cy="114.7" r="3.43" fill="#e7e7e7"/><circle cx="693.1" cy="114.4" r="3.45" fill="#e8e8e8"/><circle cx="694.1" cy="114.2" r="3.47" fill="#e8e8e8"/><circle cx="695.2" cy="113.9" r="3.49" fill="#e9e9e9"/><circle cx="696.2" cy="113.7" r="3.51" fill="#e9e9e9"/><circle cx="697.2" cy="113.5" r="3.53" fill="#eaeaea"/><circle cx="698.3" cy="113.3" r="3.55" fill="#ebebeb"/><circle cx="699.3" cy="113.2" r="3.57" fill="#ebebeb"/><circle cx="700.4" cy="113.0" r="3.58" fill="#ececec"/><circle cx="701.4" cy="112.9" r="3.60" fill="#ececec"/><circle cx="702.4" cy="112.9" r="3.62" fill="#ededed"/><circle cx="703.5" cy="112.8" r="3.64" fill="#ededed"/><circle cx="704.5" cy="112.8" r="3.65" fill="#eeeeee"/><circle cx="705.6" cy="112.8" r="3.67" fill="#eeeeee"/><circle cx="706.6" cy="112.8" r="3.68" fill="#efefef"/><circle cx="707.7" cy="112.9" r="3.70" fill="#efefef"/><circle cx="708.7" cy="112.9" r="3.71" fill="#efefef"/><circle cx="709.8" cy="113.0" r="3.73" fill="#f0f0f0"/><circle cx="710.8" cy="113.2" r="3.74" fill="#f0f0f0"/><circle cx="711.9" cy="113.3" r="3.75" fill="#f1f1f1"/><circle cx="712.9" cy="113.5" r="3.77" fill="#f1f1f1"/><circle cx="713.9" cy="113.7" r="3.78" fill="#f1f1f1"/><circle cx="714.9" cy="113.9" r="3.79" fill="#f2f2f2"/><circle cx="716.0" cy="114.2" r="3.80" fill="#f2f2f2"/><circle cx="717.0" cy="114.5" r="3.81" fill="#f2f2f2"/><circle cx="718.0" cy="114.8" r="3.82" fill="#f3f3f3"/><circle cx="718.9" cy="115.1" r="3.83" fill="#f3f3f3"/><circle cx="719.9" cy="115.4" r="3.84" fill="#f3f3f3"/><circle cx="720.9" cy="115.8" r="3.85" fill="#f3f3f3"/><circle cx="721.8" cy="116.2" r="3.86" fill="#f4f4f4"/><circle cx="722.8" cy="116.6" r="3.86" fill="#f4f4f4"/><circle cx="723.7" cy="117.0" r="3.87" fill="#f4f4f4"/><circle cx="724.7" cy="117.5" r="3.87" fill="#f4f4f4"/><circle cx="725.6" cy="118.0" r="3.88" fill="#f4f4f4"/><circle cx="726.5" cy="118.5" r="3.88" fill="#f4f4f4"/><circle cx="727.3" cy="119.0" r="3.89" fill="#f4f4f4"/><circle cx="728.2" cy="119.6" r="3.89" fill="#f5f5f5"/><circle cx="729.1" cy="120.1" r="3.90" fill="#f5f5f5"/><circle cx="729.9" cy="120.7" r="3.90" fill="#f5f5f5"/><circle cx="730.7" cy="121.3" r="3.90" fill="#f5f5f5"/><circle cx="731.5" cy="121.9" r="3.90" fill="#f5f5f5"/><circle cx="732.3" cy="122.6" r="3.90" fill="#f5f5f5"/><circle cx="733.1" cy="123.2" r="3.90" fill="#f5f5f5"/><circle cx="733.8" cy="123.9" r="3.90" fill="#f5f5f5"/><circle cx="734.5" cy="124.6" r="3.90" fill="#f5f5f5"/><circle cx="735.3" cy="125.3" r="3.90" fill="#f5f5f5"/><circle cx="735.9" cy="126.1" r="3.89" fill="#f5f5f5"/><circle cx="736.6" cy="126.8" r="3.89" fill="#f4f4f4"/><circle cx="737.3" cy="127.6" r="3.88" fill="#f4f4f4"/><circle cx="737.9" cy="128.4" r="3.88" fill="#f4f4f4"/><circle cx="738.7" cy="129.4" r="3.87" fill="#f4f4f4"/><circle cx="739.5" cy="130.5" r="3.86" fill="#f4f4f4"/><circle cx="740.2" cy="131.6" r="3.86" fill="#f4f4f4"/><circle cx="740.9" cy="132.8" r="3.84" fill="#f3f3f3"/><circle cx="741.5" cy="133.9" r="3.83" fill="#f3f3f3"/><circle cx="742.1" cy="135.1" r="3.82" fill="#f3f3f3"/><circle cx="742.7" cy="136.3" r="3.81" fill="#f2f2f2"/><circle cx="743.2" cy="137.5" r="3.79" fill="#f2f2f2"/><circle cx="743.7" cy="138.7" r="3.78" fill="#f1f1f1"/><circle cx="744.1" cy="140.0" r="3.76" fill="#f1f1f1"/><circle cx="744.5" cy="141.2" r="3.75" fill="#f0f0f0"/><circle cx="744.8" cy="142.5" r="3.73" fill="#f0f0f0"/><circle cx="745.1" cy="143.8" r="3.71" fill="#efefef"/><circle cx="745.3" cy="145.1" r="3.69" fill="#efefef"/><circle cx="745.5" cy="146.4" r="3.67" fill="#eeeeee"/><circle cx="745.6" cy="147.8" r="3.65" fill="#eeeeee"/><circle cx="745.7" cy="149.3" r="3.62" fill="#ededed"/><circle cx="745.8" cy="150.3" r="3.60" fill="#ececec"/></g>
<path d="M746 132 C742 152 724 154 705 152.5 L703 149.5 C716 145 728 134 730 120Z" fill="#e6e6e6" filter="url(#b2)"/>
<path d="M735 176 C738 166 730 158 712 154 L745 154 C745 164 740 172 735 176Z" fill="#cccccc" filter="url(#b2)"/>
<ellipse cx="705.6" cy="150.3" rx="43.0" ry="40.0" fill="url(#ringsB)" filter="url(#b05)"/>
<ellipse cx="701" cy="132" rx="22.5" ry="11.2" fill="#616161" filter="url(#b2)"/>
<ellipse cx="701" cy="170" rx="24.5" ry="11" fill="#616161" filter="url(#b2)"/>
<path d="M690 134 Q701 124 712 134" fill="none" stroke="#292929" stroke-width="3" stroke-linecap="round" filter="url(#b1)"/>
<path d="M694 129 Q701 124 708 129" fill="none" stroke="#333333" stroke-width="2" stroke-linecap="round" filter="url(#b1)"/>
<path d="M689 168 Q701 178 713 168" fill="none" stroke="#292929" stroke-width="3" stroke-linecap="round" filter="url(#b1)"/>
<path d="M695 168 Q701 172 707 168" fill="none" stroke="#333333" stroke-width="2" stroke-linecap="round" filter="url(#b1)"/>
<line x1="662" y1="152.6" x2="704" y2="152.6" stroke="#5c5c5c" stroke-width="2" stroke-dasharray="5 2" filter="url(#b05)"/>
<circle cx="659.6" cy="152.8" r="2.8" fill="#141414" filter="url(#b07)"/>
</g></g>
<g font-size="24.6" fill="#000">
<text transform="translate(390.8,92.0) scale(1,1.070)" text-anchor="end">10</text>
<text transform="translate(390.8,163.2) scale(1,1.070)" text-anchor="end">0</text>
<text transform="translate(390.8,232.0) scale(1,1.070)" text-anchor="end">-10</text>
<text transform="translate(415.4,269.3) scale(1,1.070)" text-anchor="middle" textLength="37.5" lengthAdjust="spacingAndGlyphs">-10</text>
<text transform="translate(495.3,269.3) scale(1,1.070)" text-anchor="middle" textLength="14.2" lengthAdjust="spacingAndGlyphs">0</text>
<text transform="translate(569.8,269.3) scale(1,1.070)" text-anchor="middle" textLength="28.4" lengthAdjust="spacingAndGlyphs">10</text>
<text transform="translate(626.5,269.3) scale(1,1.070)" text-anchor="middle" textLength="37.5" lengthAdjust="spacingAndGlyphs">-10</text>
<text transform="translate(706.2,269.3) scale(1,1.070)" text-anchor="middle" textLength="14.2" lengthAdjust="spacingAndGlyphs">0</text>
<text transform="translate(781.6,269.3) scale(1,1.070)" text-anchor="middle" textLength="28.4" lengthAdjust="spacingAndGlyphs">10</text>
</g>
<g font-size="25.5" fill="#fff">
<text x="392.6" y="72.5">a)</text>
<text x="604.1" y="73.9">b)</text>
</g>
<g fill="#000">
<text class="i" font-size="27" x="476.4" y="286.5">z</text>
<text font-size="27" x="497.4" y="286.5">/</text>
<text class="i" font-size="27" x="512.9" y="286.5">l</text>
<text font-size="21.5" x="520.4" y="292.5">z</text>
</g>
<g fill="#000">
<text class="i" font-size="27" x="675.0" y="286.5">z</text>
<text font-size="27" x="696.0" y="286.5">/</text>
<text class="i" font-size="27" x="711.5" y="286.5">l</text>
<text font-size="21.5" x="719.0" y="292.5">z</text>
</g>
<g fill="#000" transform="translate(367.2,187.6) rotate(-90)">
<text class="i" font-size="25.3" x="0" y="0">p</text>
<text font-size="20.5" x="14.3" y="8.6">z</text>
<text font-size="25.3" x="29.8" y="0">/</text>
<text class="i" font-size="25.3" x="44.0" y="0">ħ</text>
<text class="i" font-size="25.3" x="64.6" y="0">l</text>
<text font-size="20.5" x="68.8" y="8.6">z</text>
<text font-size="19.5" x="69.0" y="-13.6">-</text>
<text font-size="19.5" x="73.6" y="-12.0">1</text>
</g>
</svg></body></html>
